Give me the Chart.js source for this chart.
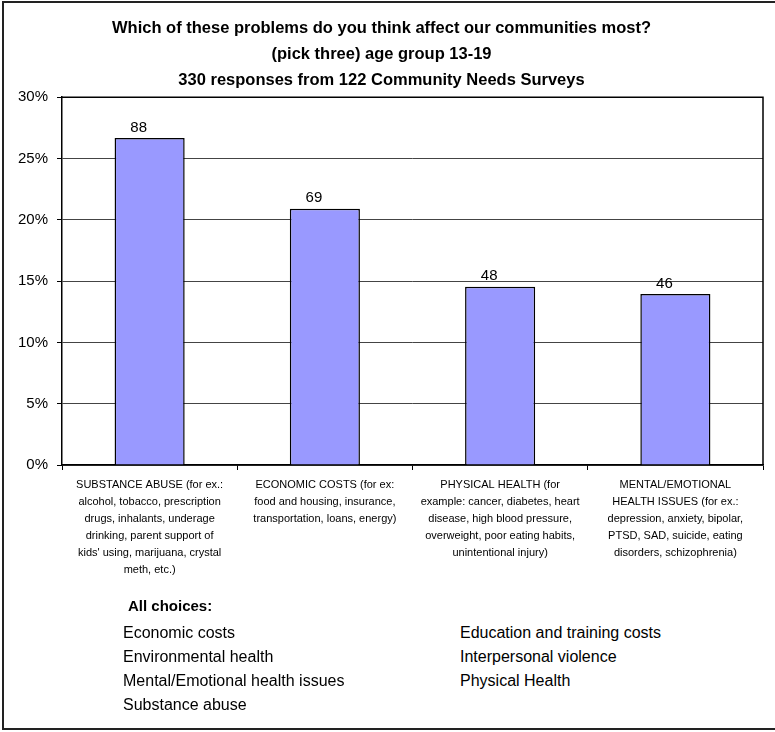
<!DOCTYPE html>
<html>
<head>
<meta charset="utf-8">
<script src="https://cdn.jsdelivr.net/npm/chart.js@4"></script>
<style>
    body { margin: 0; background: #fff; }
    #page { position: relative; width: 775px; height: 732px; overflow: hidden; }
    #frame { position: absolute; left: 2px; top: 1px; width: 790px; height: 729px; border: 2px solid #222; box-sizing: border-box; }
    #chartBox { position: absolute; left: 0; top: 0; width: 775px; height: 600px; }
    #choices { position: absolute; left: 0; top: 0; font-family: "Liberation Sans", Arial, sans-serif; color: #000; }
    #choices div { position: absolute; white-space: nowrap; font-size: 16px; }
    #choices .head { font-weight: bold; font-size: 15px; }
</style>
</head>
<body>
<div id="page">
    <div id="frame"></div>
    <div id="chartBox"><canvas id="problemsChart"></canvas></div>
    <div id="choices"></div>
</div>
<script>
// Survey data
const categoryLabels = [
    ['SUBSTANCE ABUSE (for ex.:', 'alcohol, tobacco, prescription', 'drugs, inhalants, underage', 'drinking, parent support of', "kids' using, marijuana, crystal", 'meth, etc.)'],
    ['ECONOMIC COSTS (for ex:', 'food and housing, insurance,', 'transportation, loans, energy)'],
    ['PHYSICAL HEALTH (for', 'example: cancer, diabetes, heart', 'disease, high blood pressure,', 'overweight, poor eating habits,', 'unintentional injury)'],
    ['MENTAL/EMOTIONAL', 'HEALTH ISSUES (for ex.:', 'depression, anxiety, bipolar,', 'PTSD, SAD, suicide, eating', 'disorders, schizophrenia)']
];
const responseCounts = [88, 69, 48, 46];
const totalResponses = 330;
const yTickValues = [0, 5, 10, 15, 20, 25, 30];
const titleLines = [
    'Which of these problems do you think affect our communities most?',
    '(pick three) age group 13-19',
    '330 responses from 122 Community Needs Surveys'
];
const allChoicesLeft = ['Economic costs', 'Environmental health', 'Mental/Emotional health issues', 'Substance abuse'];
const allChoicesRight = ['Education and training costs', 'Interpersonal violence', 'Physical Health'];

const percentShares = responseCounts.map(c => c / totalResponses * 100);

// count labels above each bar
const countLabels = {
    id: 'countLabels',
    afterDatasetsDraw(chart) {
        const ctx = chart.ctx;
        const meta = chart.getDatasetMeta(0);
        ctx.save();
        ctx.font = '15px "Liberation Sans", Arial, sans-serif';
        ctx.fillStyle = '#000';
        ctx.textAlign = 'center';
        ctx.textBaseline = 'bottom';
        meta.data.forEach((bar, i) => {
            ctx.fillText(String(responseCounts[i]), bar.x - 11, bar.y - 3);
        });
        ctx.restore();
    }
};

// black box around the plot area
const plotFrame = {
    id: 'plotFrame',
    afterDraw(chart) {
        const a = chart.chartArea;
        const ctx = chart.ctx;
        ctx.save();
        ctx.strokeStyle = '#000';
        ctx.lineWidth = 1.5;
        ctx.beginPath();
        ctx.moveTo(a.left, a.top);
        ctx.lineTo(a.right, a.top);
        ctx.lineTo(a.right, a.bottom);
        ctx.stroke();
        ctx.restore();
    }
};

const chartConfig = {
    type: 'bar',
    data: {
        labels: categoryLabels,
        datasets: [{
            data: percentShares,
            backgroundColor: '#9999FF',
            borderColor: '#000',
            borderWidth: 1.5,
            borderSkipped: 'start',
            barPercentage: 0.4,
            categoryPercentage: 1
        }]
    },
    options: {
        responsive: true,
        maintainAspectRatio: false,
        animation: false,
        layout: { padding: { left: 0, right: 12, top: 0, bottom: 0 } },
        plugins: {
            legend: { display: false },
            tooltip: { enabled: false },
            title: {
                display: true,
                text: titleLines,
                color: '#000',
                font: { family: '"Liberation Sans", Arial, sans-serif', size: 16.5, weight: 'bold', lineHeight: 1.58 },
                padding: { top: 15, bottom: 4 }
            }
        },
        scales: {
            y: {
                min: 0,
                max: 30,
                afterBuildTicks(scale) {
                    scale.ticks = yTickValues.map(v => ({ value: v }));
                },
                afterFit(scale) { scale.width = 62; },
                ticks: {
                    color: '#000',
                    padding: 9,
                    font: { family: '"Liberation Sans", Arial, sans-serif', size: 15 },
                    callback: v => v + '%'
                },
                grid: { color: '#444', lineWidth: 1, tickLength: 5, tickColor: '#000' },
                border: { color: '#000', width: 1.5 }
            },
            x: {
                afterFit(scale) { scale.height = 135; },
                ticks: {
                    color: '#000',
                    padding: 6,
                    maxRotation: 0,
                    autoSkip: false,
                    font: { family: '"Liberation Sans", Arial, sans-serif', size: 11, lineHeight: 1.55 }
                },
                grid: { drawOnChartArea: false, tickLength: 5, color: '#000' },
                border: { color: '#000', width: 1.5 }
            }
        }
    },
    plugins: [countLabels, plotFrame]
};

new Chart(document.getElementById('problemsChart'), chartConfig);

// "All choices" list below the chart
const choicesBox = document.getElementById('choices');
function addText(text, x, y, cls) {
    const el = document.createElement('div');
    el.textContent = text;
    el.style.left = x + 'px';
    el.style.top = y + 'px';
    if (cls) el.className = cls;
    choicesBox.appendChild(el);
}
addText('All choices:', 128, 597, 'head');
allChoicesLeft.forEach((t, i) => addText(t, 123, 624 + i * 24));
allChoicesRight.forEach((t, i) => addText(t, 460, 624 + i * 24));
</script>
</body>
</html>
